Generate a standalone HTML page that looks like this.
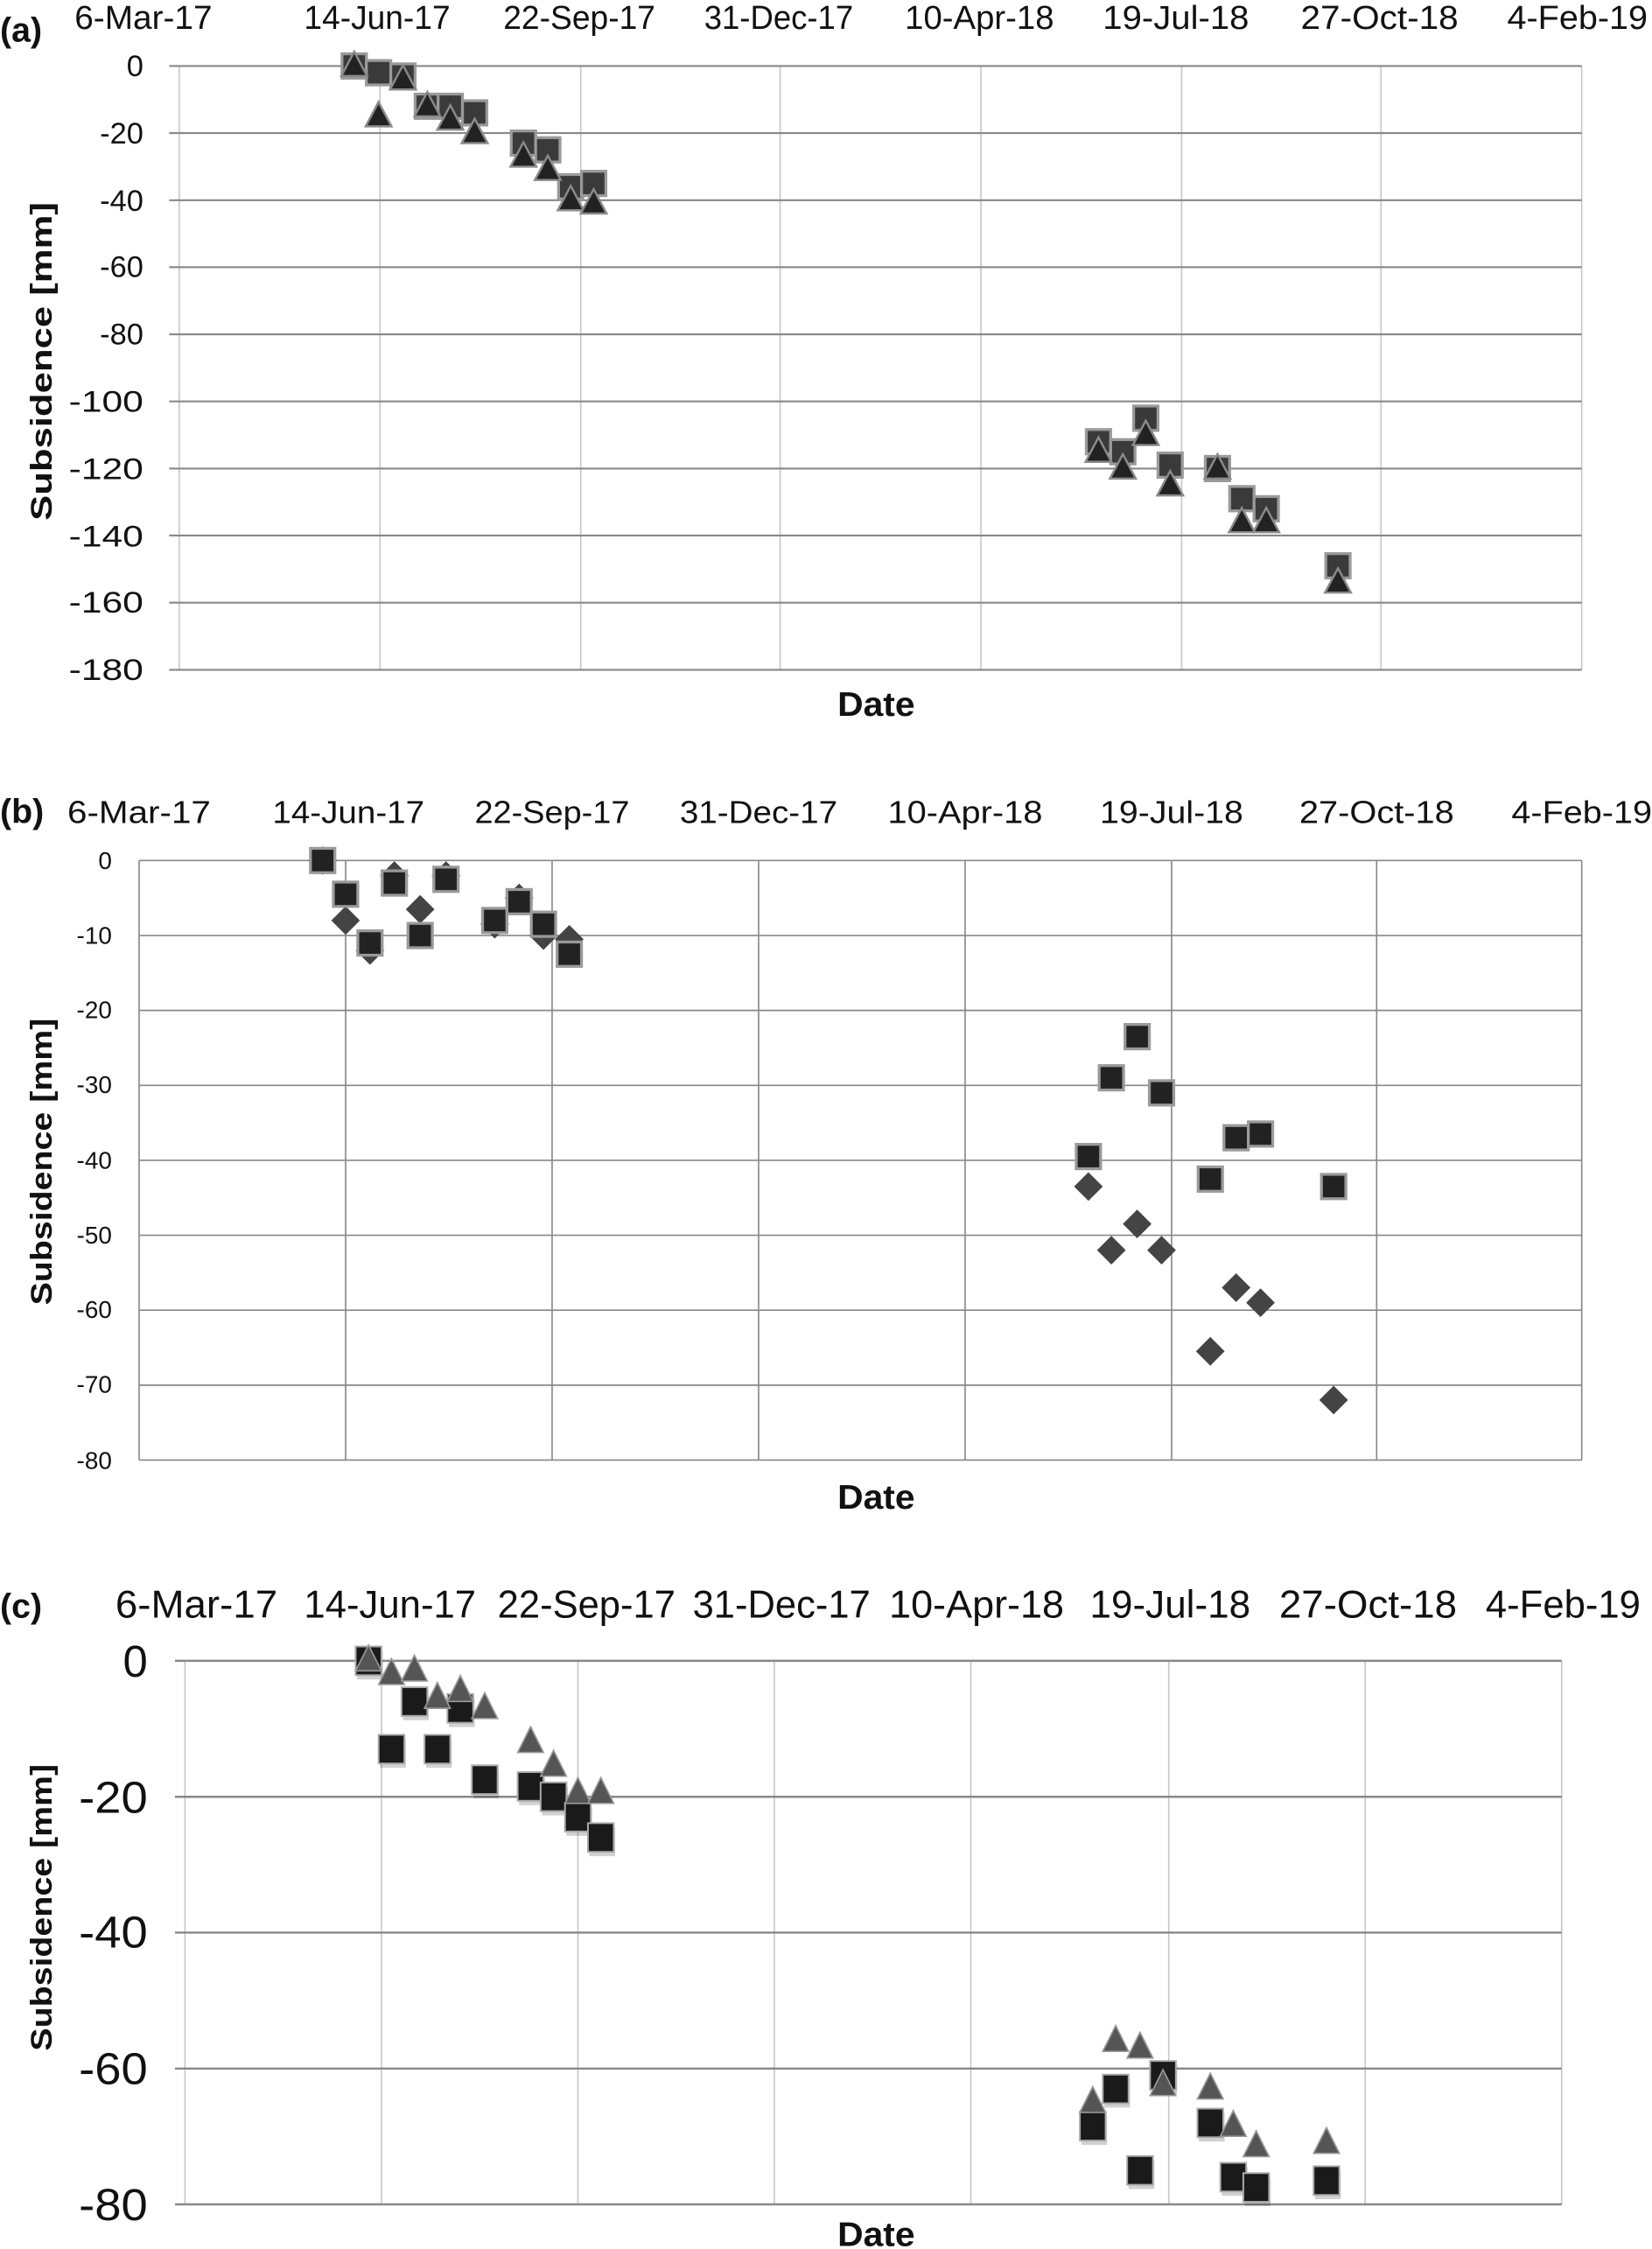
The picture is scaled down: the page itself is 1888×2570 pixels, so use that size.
<!DOCTYPE html>
<html><head><meta charset="utf-8"><style>html,body{margin:0;padding:0;background:#fff}svg{display:block}</style></head><body>
<svg width="1888" height="2570" viewBox="0 0 1152 1568.1" preserveAspectRatio="none" xmlns="http://www.w3.org/2000/svg" font-family="Liberation Sans, sans-serif">
<defs>
<symbol id="sa" overflow="visible"><rect x="-8.5" y="-8.5" width="17" height="17" fill="#3a3a3a" stroke="#9a9a9a" stroke-width="2"/></symbol>
<symbol id="ta" overflow="visible"><polygon points="0,-10 9,7 -9,7" fill="#222" stroke="#8a8a8a" stroke-width="1.5"/></symbol>
<symbol id="sb" overflow="visible"><rect x="-8.5" y="-8.5" width="17" height="17" fill="#222" stroke="#9a9a9a" stroke-width="2"/></symbol>
<symbol id="db" overflow="visible"><polygon points="0,-10 10,0 0,10 -10,0" fill="#444"/></symbol>
<symbol id="sc" overflow="visible"><rect x="-8" y="-7" width="18" height="20" fill="#000" opacity="0.18"/><rect x="-9" y="-10" width="18" height="20" fill="#1a1a1a" stroke="#aaa" stroke-width="1.2"/></symbol>
<symbol id="tc" overflow="visible"><polygon points="0,-11 9,7 -9,7" fill="#555" stroke="#999" stroke-width="1"/></symbol>
</defs>

<!-- Panel a -->
<g stroke="#c8c8c8" stroke-width="1">
<line x1="125" y1="46" x2="125" y2="467"/><line x1="265" y1="46" x2="265" y2="467"/><line x1="405" y1="46" x2="405" y2="467"/><line x1="544" y1="46" x2="544" y2="467"/><line x1="684" y1="46" x2="684" y2="467"/><line x1="824" y1="46" x2="824" y2="467"/><line x1="963" y1="46" x2="963" y2="467"/><line x1="1103" y1="46" x2="1103" y2="467"/>
</g>
<g stroke="#888" stroke-width="1.3">
<line x1="118" y1="46" x2="1103" y2="46"/><line x1="118" y1="92.8" x2="1103" y2="92.8"/><line x1="118" y1="139.6" x2="1103" y2="139.6"/><line x1="118" y1="186.3" x2="1103" y2="186.3"/><line x1="118" y1="233.1" x2="1103" y2="233.1"/><line x1="118" y1="279.9" x2="1103" y2="279.9"/><line x1="118" y1="326.7" x2="1103" y2="326.7"/><line x1="118" y1="373.4" x2="1103" y2="373.4"/><line x1="118" y1="420.2" x2="1103" y2="420.2"/><line x1="118" y1="467" x2="1103" y2="467"/>
</g>
<g font-size="23" fill="#111" text-anchor="middle">
<text x="100" y="20" textLength="96" lengthAdjust="spacingAndGlyphs">6-Mar-17</text>
<text x="263" y="20" textLength="102" lengthAdjust="spacingAndGlyphs">14-Jun-17</text>
<text x="404" y="20" textLength="106" lengthAdjust="spacingAndGlyphs">22-Sep-17</text>
<text x="543" y="20" textLength="104" lengthAdjust="spacingAndGlyphs">31-Dec-17</text>
<text x="683" y="20" textLength="104" lengthAdjust="spacingAndGlyphs">10-Apr-18</text>
<text x="820" y="20" textLength="102" lengthAdjust="spacingAndGlyphs">19-Jul-18</text>
<text x="962" y="20" textLength="110" lengthAdjust="spacingAndGlyphs">27-Oct-18</text>
<text x="1100" y="20" textLength="98" lengthAdjust="spacingAndGlyphs">4-Feb-19</text>
</g>
<g font-size="21" fill="#111" text-anchor="end">
<text x="100" y="53">0</text><text x="100" y="100">-20</text><text x="100" y="147">-40</text><text x="100" y="193">-60</text><text x="100" y="240">-80</text><text x="100" y="287" textLength="52" lengthAdjust="spacingAndGlyphs">-100</text><text x="100" y="334" textLength="52" lengthAdjust="spacingAndGlyphs">-120</text><text x="100" y="381" textLength="52" lengthAdjust="spacingAndGlyphs">-140</text><text x="100" y="427" textLength="52" lengthAdjust="spacingAndGlyphs">-160</text><text x="100" y="474" textLength="52" lengthAdjust="spacingAndGlyphs">-180</text>
</g>
<text x="0" y="29" font-size="24" font-weight="bold" fill="#111">(a)</text>
<text x="611" y="499" font-size="24" font-weight="bold" fill="#111" text-anchor="middle" textLength="54" lengthAdjust="spacingAndGlyphs">Date</text>
<text transform="translate(36,252) rotate(-90)" font-size="21" font-weight="bold" fill="#111" text-anchor="middle" textLength="222" lengthAdjust="spacingAndGlyphs">Subsidence [mm]</text>
<g>
<use href="#sa" x="247" y="46"/><use href="#sa" x="264" y="50.7"/><use href="#sa" x="281" y="53"/><use href="#sa" x="298" y="74.1"/><use href="#sa" x="314" y="74.1"/><use href="#sa" x="331" y="78.7"/><use href="#sa" x="365" y="99.8"/><use href="#sa" x="382" y="104.5"/><use href="#sa" x="398" y="130.2"/><use href="#sa" x="414" y="127.9"/><use href="#sa" x="766" y="308"/><use href="#sa" x="783" y="315"/><use href="#sa" x="799" y="291.6"/><use href="#sa" x="816" y="324.3"/><use href="#sa" x="849" y="326.7"/><use href="#sa" x="866" y="347.7"/><use href="#sa" x="883" y="354.7"/><use href="#sa" x="933" y="394.5"/>
<use href="#ta" x="247" y="46"/><use href="#ta" x="264" y="81.1"/><use href="#ta" x="281" y="55.4"/><use href="#ta" x="298" y="74.1"/><use href="#ta" x="314" y="83.4"/><use href="#ta" x="331" y="92.8"/><use href="#ta" x="365" y="109.2"/><use href="#ta" x="382" y="118.5"/><use href="#ta" x="398" y="139.6"/><use href="#ta" x="414" y="141.9"/><use href="#ta" x="766" y="315"/><use href="#ta" x="783" y="326.7"/><use href="#ta" x="799" y="303.3"/><use href="#ta" x="816" y="338.4"/><use href="#ta" x="849" y="326.7"/><use href="#ta" x="866" y="364.1"/><use href="#ta" x="883" y="364.1"/><use href="#ta" x="933" y="406.2"/>
</g>

<!-- Panel b -->
<g stroke="#888" stroke-width="1">
<line x1="97" y1="600" x2="97" y2="1018"/><line x1="241" y1="600" x2="241" y2="1018"/><line x1="385" y1="600" x2="385" y2="1018"/><line x1="529" y1="600" x2="529" y2="1018"/><line x1="673" y1="600" x2="673" y2="1018"/><line x1="817" y1="600" x2="817" y2="1018"/><line x1="960" y1="600" x2="960" y2="1018"/><line x1="1103" y1="600" x2="1103" y2="1018"/>
<line x1="97" y1="600" x2="1103" y2="600"/><line x1="97" y1="652.3" x2="1103" y2="652.3"/><line x1="97" y1="704.5" x2="1103" y2="704.5"/><line x1="97" y1="756.8" x2="1103" y2="756.8"/><line x1="97" y1="809" x2="1103" y2="809"/><line x1="97" y1="861.3" x2="1103" y2="861.3"/><line x1="97" y1="913.5" x2="1103" y2="913.5"/><line x1="97" y1="965.8" x2="1103" y2="965.8"/><line x1="97" y1="1018" x2="1103" y2="1018"/>
</g>
<g font-size="22" fill="#111" text-anchor="middle">
<text x="97" y="574" textLength="100" lengthAdjust="spacingAndGlyphs">6-Mar-17</text>
<text x="243" y="574" textLength="106" lengthAdjust="spacingAndGlyphs">14-Jun-17</text>
<text x="385" y="574" textLength="108" lengthAdjust="spacingAndGlyphs">22-Sep-17</text>
<text x="529" y="574" textLength="110" lengthAdjust="spacingAndGlyphs">31-Dec-17</text>
<text x="673" y="574" textLength="108" lengthAdjust="spacingAndGlyphs">10-Apr-18</text>
<text x="817" y="574" textLength="100" lengthAdjust="spacingAndGlyphs">19-Jul-18</text>
<text x="960" y="574" textLength="108" lengthAdjust="spacingAndGlyphs">27-Oct-18</text>
<text x="1103" y="574" textLength="98" lengthAdjust="spacingAndGlyphs">4-Feb-19</text>
</g>
<g font-size="17" fill="#111" text-anchor="end">
<text x="78" y="606">0</text><text x="78" y="658">-10</text><text x="78" y="710">-20</text><text x="78" y="762">-30</text><text x="78" y="815">-40</text><text x="78" y="867">-50</text><text x="78" y="919">-60</text><text x="78" y="971">-70</text><text x="78" y="1024">-80</text>
</g>
<text x="0" y="574" font-size="24" font-weight="bold" fill="#111">(b)</text>
<text x="611" y="1052" font-size="24" font-weight="bold" fill="#111" text-anchor="middle" textLength="54" lengthAdjust="spacingAndGlyphs">Date</text>
<text transform="translate(36,810) rotate(-90)" font-size="21" font-weight="bold" fill="#111" text-anchor="middle" textLength="200" lengthAdjust="spacingAndGlyphs">Subsidence [mm]</text>
<g>
<use href="#db" x="225" y="600"/><use href="#db" x="241" y="641.8"/><use href="#db" x="258" y="662.7"/><use href="#db" x="275" y="610.5"/><use href="#db" x="293" y="634"/><use href="#db" x="311" y="610.5"/><use href="#db" x="345" y="644.4"/><use href="#db" x="362" y="626.1"/><use href="#db" x="379" y="652.3"/><use href="#db" x="397" y="654.9"/><use href="#db" x="759" y="827.3"/><use href="#db" x="775" y="871.7"/><use href="#db" x="793" y="853.4"/><use href="#db" x="810" y="871.7"/><use href="#db" x="844" y="942.2"/><use href="#db" x="862" y="897.8"/><use href="#db" x="879" y="908.3"/><use href="#db" x="930" y="976.2"/>
<use href="#sb" x="225" y="600"/><use href="#sb" x="241" y="623.5"/><use href="#sb" x="258" y="657.5"/><use href="#sb" x="275" y="615.7"/><use href="#sb" x="293" y="652.3"/><use href="#sb" x="311" y="613.1"/><use href="#sb" x="345" y="641.8"/><use href="#sb" x="362" y="628.7"/><use href="#sb" x="379" y="644.4"/><use href="#sb" x="397" y="665.3"/><use href="#sb" x="759" y="806.4"/><use href="#sb" x="775" y="751.5"/><use href="#sb" x="793" y="722.8"/><use href="#sb" x="810" y="762"/><use href="#sb" x="844" y="822.1"/><use href="#sb" x="862" y="793.3"/><use href="#sb" x="879" y="790.7"/><use href="#sb" x="930" y="827.3"/>
</g>

<!-- Panel c -->
<g stroke="#c8c8c8" stroke-width="1">
<line x1="129" y1="1158" x2="129" y2="1537"/><line x1="266" y1="1158" x2="266" y2="1537"/><line x1="403" y1="1158" x2="403" y2="1537"/><line x1="540" y1="1158" x2="540" y2="1537"/><line x1="677" y1="1158" x2="677" y2="1537"/><line x1="815" y1="1158" x2="815" y2="1537"/><line x1="952" y1="1158" x2="952" y2="1537"/><line x1="1089" y1="1158" x2="1089" y2="1537"/>
</g>
<g stroke="#888" stroke-width="1.5">
<line x1="122" y1="1158" x2="1089" y2="1158"/><line x1="122" y1="1252.8" x2="1089" y2="1252.8"/><line x1="122" y1="1347.5" x2="1089" y2="1347.5"/><line x1="122" y1="1442.3" x2="1089" y2="1442.3"/><line x1="122" y1="1537" x2="1089" y2="1537"/>
</g>
<g font-size="27" fill="#111" text-anchor="middle">
<text x="137" y="1128" textLength="113" lengthAdjust="spacingAndGlyphs">6-Mar-17</text>
<text x="272" y="1128" textLength="120" lengthAdjust="spacingAndGlyphs">14-Jun-17</text>
<text x="409" y="1128" textLength="124" lengthAdjust="spacingAndGlyphs">22-Sep-17</text>
<text x="545" y="1128" textLength="124" lengthAdjust="spacingAndGlyphs">31-Dec-17</text>
<text x="681" y="1128" textLength="122" lengthAdjust="spacingAndGlyphs">10-Apr-18</text>
<text x="816" y="1128" textLength="112" lengthAdjust="spacingAndGlyphs">19-Jul-18</text>
<text x="954" y="1128" textLength="124" lengthAdjust="spacingAndGlyphs">27-Oct-18</text>
<text x="1090" y="1128" textLength="108" lengthAdjust="spacingAndGlyphs">4-Feb-19</text>
</g>
<g font-size="31" fill="#111" text-anchor="end">
<text x="103" y="1169">0</text><text x="103" y="1264" textLength="48" lengthAdjust="spacingAndGlyphs">-20</text><text x="103" y="1358" textLength="48" lengthAdjust="spacingAndGlyphs">-40</text><text x="103" y="1453" textLength="48" lengthAdjust="spacingAndGlyphs">-60</text><text x="103" y="1548" textLength="48" lengthAdjust="spacingAndGlyphs">-80</text>
</g>
<text x="0" y="1128" font-size="24" font-weight="bold" fill="#111">(c)</text>
<text x="611" y="1566" font-size="24" font-weight="bold" fill="#111" text-anchor="middle" textLength="54" lengthAdjust="spacingAndGlyphs">Date</text>
<text transform="translate(36,1330) rotate(-90)" font-size="21" font-weight="bold" fill="#111" text-anchor="middle" textLength="200" lengthAdjust="spacingAndGlyphs">Subsidence [mm]</text>
<g>
<use href="#sc" x="257" y="1158"/><use href="#sc" x="273" y="1219.6"/><use href="#sc" x="289" y="1186.4"/><use href="#sc" x="305" y="1219.6"/><use href="#sc" x="321" y="1191.2"/><use href="#sc" x="338" y="1240.9"/><use href="#sc" x="370" y="1245.6"/><use href="#sc" x="386" y="1252.8"/><use href="#sc" x="403" y="1267"/><use href="#sc" x="419" y="1281.2"/><use href="#sc" x="762" y="1482.5"/><use href="#sc" x="778" y="1456.5"/><use href="#sc" x="795" y="1513.3"/><use href="#sc" x="811" y="1447"/><use href="#sc" x="844" y="1480.2"/><use href="#sc" x="860" y="1518"/><use href="#sc" x="876" y="1525.2"/><use href="#sc" x="925" y="1520.4"/>
<use href="#tc" x="257" y="1158"/><use href="#tc" x="273" y="1167.5"/><use href="#tc" x="289" y="1165.1"/><use href="#tc" x="305" y="1184.1"/><use href="#tc" x="321" y="1179.3"/><use href="#tc" x="338" y="1191.2"/><use href="#tc" x="370" y="1214.9"/><use href="#tc" x="386" y="1231.4"/><use href="#tc" x="403" y="1250.4"/><use href="#tc" x="419" y="1250.4"/><use href="#tc" x="762" y="1465.9"/><use href="#tc" x="778" y="1423.3"/><use href="#tc" x="795" y="1428"/><use href="#tc" x="811" y="1454.1"/><use href="#tc" x="844" y="1456.5"/><use href="#tc" x="860" y="1482.5"/><use href="#tc" x="876" y="1496.7"/><use href="#tc" x="925" y="1494.4"/>
</g>
</svg>
</body></html>
